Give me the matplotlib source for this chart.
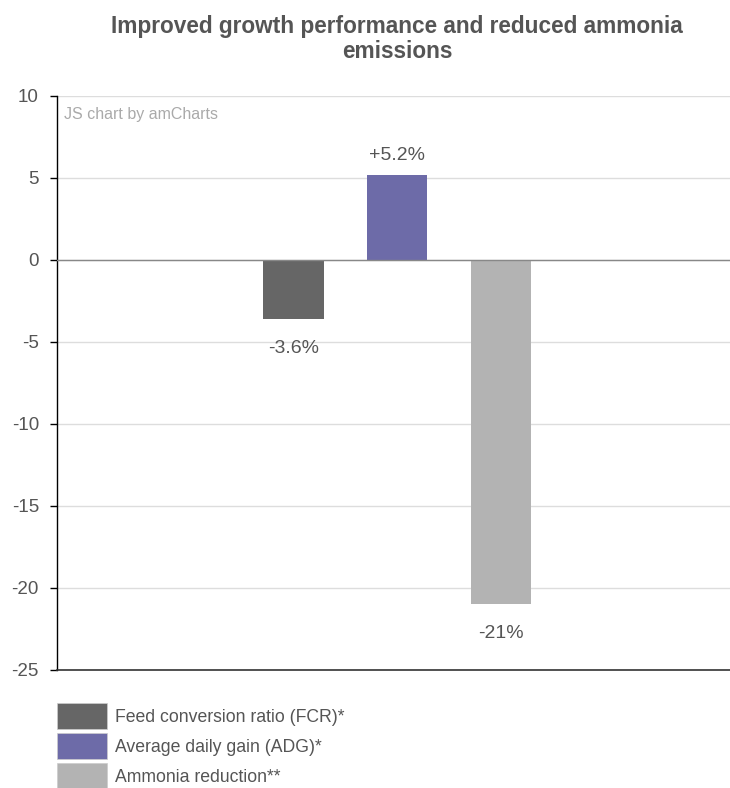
import matplotlib.pyplot as plt
from matplotlib.patches import Patch

plt.rcParams['font.family'] = ['Liberation Sans', 'DejaVu Sans']

# data
series = ["Feed conversion ratio (FCR)*", "Average daily gain (ADG)*", "Ammonia reduction**"]
values = [-3.6, 5.2, -21]
labels = ["-3.6%", "+5.2%", "-21%"]
colors = ["#666666", "#6d6ba8", "#b3b3b3"]
yticks = [10, 5, 0, -5, -10, -15, -20, -25]

fig = plt.figure(figsize=(7.3, 7.88), dpi=100)
ax = fig.add_axes([57 / 730, 1 - 670 / 788, 673 / 730, 574 / 788])

xs = [-1, 0, 1]
ax.bar(xs, values, width=0.58, color=colors, zorder=3)

for x, v, lab in zip(xs, values, labels):
    if v >= 0:
        ax.annotate(lab, (x, v), xytext=(0, 8), textcoords='offset points',
                    ha='center', va='bottom', fontsize=14, color='#555555')
    else:
        ax.annotate(lab, (x, v), xytext=(0, -15), textcoords='offset points',
                    ha='center', va='top', fontsize=14, color='#555555')

ax.set_xlim(-3.285, 3.217)
ax.set_ylim(-25, 10)
ax.set_yticks(yticks)
ax.set_yticklabels([str(t) for t in yticks], fontsize=13.5, color='#555555')
ax.set_xticks([])
ax.tick_params(axis='y', length=5, width=1, color='#000000', pad=8)

ax.grid(axis='y', color='#dddddd', linewidth=1, zorder=0)
ax.axhline(0, color='#888888', linewidth=1, zorder=4)

for s in ['top', 'right']:
    ax.spines[s].set_visible(False)
ax.spines['left'].set_color('#000000')
ax.spines['bottom'].set_color('#333333')
ax.spines['left'].set_linewidth(1)
ax.spines['bottom'].set_linewidth(1.2)

ax.text(0.011, 0.967, "JS chart by amCharts", transform=ax.transAxes,
        fontsize=11.5, color='#aaaaaa', ha='left', va='center')

fig.text(397 / 730, 1 - 39 / 788, "Improved growth performance and reduced ammonia\nemissions",
         ha='center', va='center', fontsize=16.3, fontweight='bold', color='#555555',
         linespacing=1.1)

handles = [Patch(facecolor=c, edgecolor='#cccccc', linewidth=0.5) for c in colors]
fig.legend(handles, series, loc='upper left', bbox_to_anchor=(57 / 730, 1 - 703 / 788),
           frameon=False, fontsize=12.7, handlelength=2.83, handleheight=1.9,
           labelspacing=0.22, handletextpad=0.45, borderpad=0, borderaxespad=0,
           labelcolor='#555555')

fig.savefig("out.png", dpi=100)
